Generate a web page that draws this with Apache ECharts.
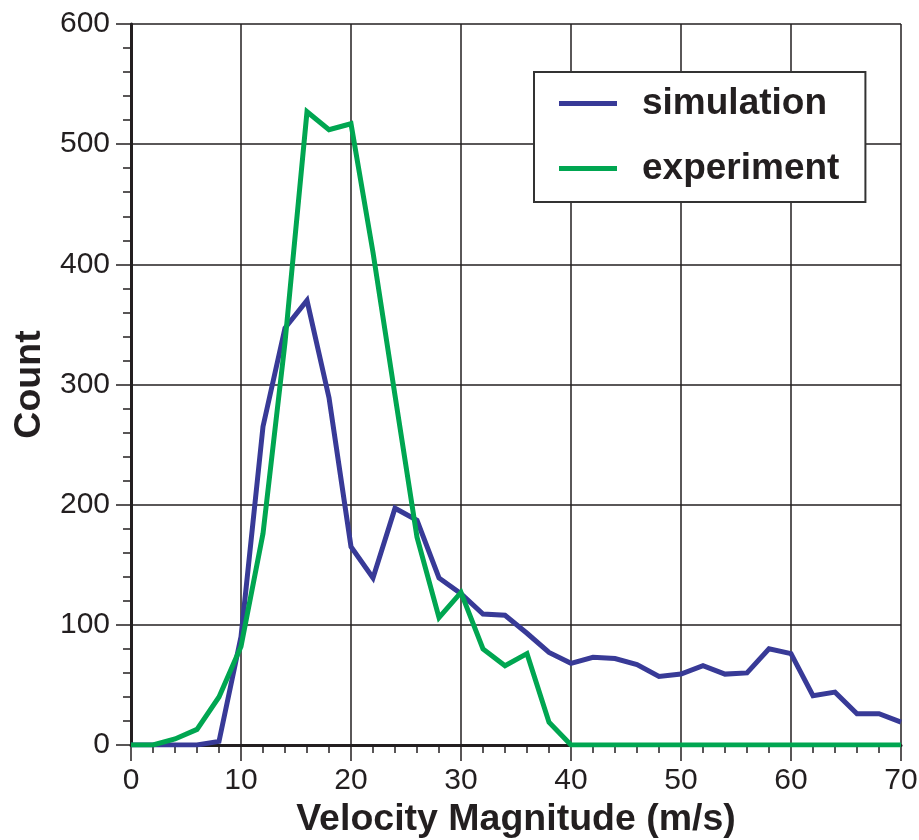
<!DOCTYPE html>
<html>
<head>
<meta charset="utf-8">
<script src="https://cdn.jsdelivr.net/npm/echarts@6/dist/echarts.min.js"></script>
<style>
html,body{margin:0;padding:0;background:#fff;}
#chart{width:919px;height:840px;}
</style>
</head>
<body>
<div id="chart"></div>
<script>
const velocity = [0,2,4,6,8,10,12,14,16,18,20,22,24,26,28,30,32,34,36,38,40,42,44,46,48,50,52,54,56,58,60,62,64,66,68,70];
const simulation = [0,0,0,0,3,90,265,347,370,289,165,139,197,187,139,126,109,108,93,77,68,73,72,67,57,59,66,59,60,80,76,41,44,26,26,19];
const experiment = [0,0,5,13,40,82,176,335,527,512,517,410,291,173,106,127,80,66,76,19,0,0,0,0,0,0,0,0,0,0,0,0,0,0,0,0];
const seriesNames = ['simulation','experiment'];
const xTitle = 'Velocity Magnitude (m/s)';
const yTitle = 'Count';

const ink = '#231f20';
const font = 'Liberation Sans, Arial, Helvetica, sans-serif';

const chart = echarts.init(document.getElementById('chart'), null, {renderer:'canvas'});
chart.setOption({
  animation:false,
  backgroundColor:'#fff',
  grid:{left:131, top:24, right:18, bottom:95, containLabel:false, outerBoundsMode:'none'},
  legend:{
    orient:'vertical', left:534, top:72,
    padding:[13,26,15,25],
    itemWidth:58, itemHeight:5, itemGap:28,
    icon:'rect',
    backgroundColor:'#fff', borderColor:'#333', borderWidth:2,
    textStyle:{fontSize:37, fontWeight:'bold', color:ink, fontFamily:font, lineHeight:36, padding:[0,0,0,20]},
    data:seriesNames
  },
  xAxis:{
    type:'value', min:0, max:70, interval:10,
    name:xTitle, nameLocation:'middle', nameGap:55,
    nameTextStyle:{fontSize:37.5, fontWeight:'bold', color:ink, fontFamily:font},
    axisLine:{onZero:false, lineStyle:{color:ink, width:3}},
    axisTick:{show:true, length:16, lineStyle:{color:ink, width:1.5}},
    minorTick:{show:true, splitNumber:5, length:8, lineStyle:{color:ink, width:1.5}},
    axisLabel:{fontSize:30, color:ink, fontFamily:font, margin:21},
    splitLine:{show:true, lineStyle:{color:ink, width:1.5}}
  },
  yAxis:{
    type:'value', min:0, max:600, interval:100,
    name:yTitle, nameLocation:'middle', nameGap:82, nameRotate:90,
    nameTextStyle:{fontSize:37.5, fontWeight:'bold', color:ink, fontFamily:font},
    axisLine:{show:true, onZero:false, lineStyle:{color:ink, width:3}},
    axisTick:{show:true, length:15, lineStyle:{color:ink, width:1.5}},
    minorTick:{show:true, splitNumber:5, length:8, lineStyle:{color:ink, width:1.5}},
    axisLabel:{fontSize:30, color:ink, fontFamily:font, margin:21},
    splitLine:{show:true, lineStyle:{color:ink, width:1.5}}
  },
  series:[
    {name:seriesNames[0], type:'line', data:velocity.map((v,i)=>[v, simulation[i]]),
     showSymbol:false, symbol:'none', color:'#383a97',
     lineStyle:{width:5, color:'#383a97', join:'miter'}, z:3},
    {name:seriesNames[1], type:'line', data:velocity.map((v,i)=>[v, experiment[i]]),
     showSymbol:false, symbol:'none', color:'#00a651',
     lineStyle:{width:5, color:'#00a651', join:'miter'}, z:4}
  ]
});
</script>
</body>
</html>
